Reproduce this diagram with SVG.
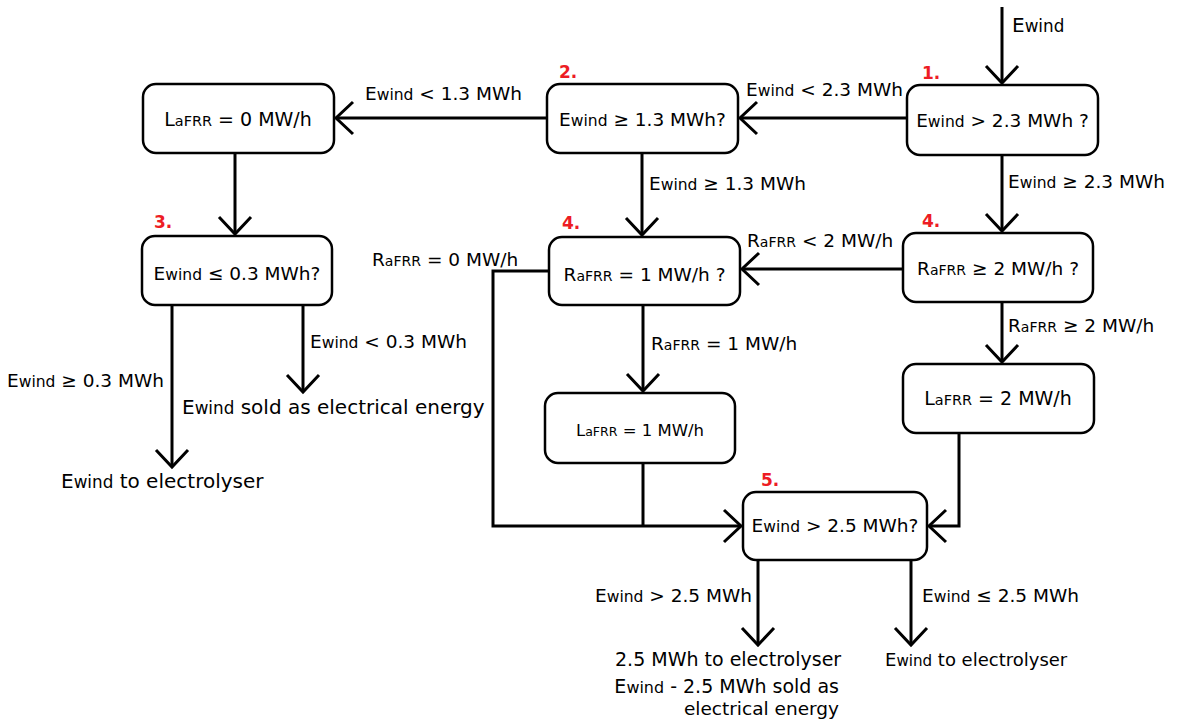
<svg xmlns="http://www.w3.org/2000/svg" width="1181" height="720" viewBox="0 0 1181 720">
<style>
.box{fill:#fff;stroke:#000;stroke-width:2.5}
.c{fill:none;stroke:#000;stroke-width:3}
text{font-family:"DejaVu Sans","Liberation Sans",sans-serif;fill:#000}
.t{font-size:18.5px}
.m{text-anchor:middle}
.big{font-size:20px}
.w{font-size:84%}
.a{font-size:76%}
.num{font-size:17px;font-weight:bold;fill:#ed1c24}
</style>
<defs>
<marker id="arr" markerUnits="userSpaceOnUse" markerWidth="44" markerHeight="44" viewBox="-22 -22 44 44" refX="0" refY="0" orient="auto">
<path d="M-17,-16 L0,0 L-17,16" fill="none" stroke="#000" stroke-width="3"/>
</marker>
</defs>
<rect width="1181" height="720" fill="#fff"/>

<g id="connectors">
<path class="c" d="M1002,7 L1002,83" marker-end="url(#arr)"/>
<path class="c" d="M907,118 L740,118" marker-end="url(#arr)"/>
<path class="c" d="M547,118 L336,118" marker-end="url(#arr)"/>
<path class="c" d="M235,153 L235,234" marker-end="url(#arr)"/>
<path class="c" d="M172,305 L172,467" marker-end="url(#arr)"/>
<path class="c" d="M303,305 L303,392" marker-end="url(#arr)"/>
<path class="c" d="M642,153 L642,235" marker-end="url(#arr)"/>
<path class="c" d="M1002,155 L1002,231" marker-end="url(#arr)"/>
<path class="c" d="M903,269 L742,269" marker-end="url(#arr)"/>
<path class="c" d="M1002,302 L1002,362" marker-end="url(#arr)"/>
<path class="c" d="M643,305 L643,391" marker-end="url(#arr)"/>
<path class="c" d="M549,271 L493,271 L493,526 L741,526" marker-end="url(#arr)"/>
<path class="c" d="M643,463 L643,526"/>
<path class="c" d="M959,433 L959,526 L929,526" marker-end="url(#arr)"/>
<path class="c" d="M758,560 L758,645" marker-end="url(#arr)"/>
<path class="c" d="M911,560 L911,645" marker-end="url(#arr)"/>

<text class="t" x="1012" y="32" style="font-size:20px">E<tspan class="w">wind</tspan></text>
<text class="t" x="746" y="96">E<tspan class="w">wind</tspan> &lt; 2.3 MWh</text>
<text class="t" x="365" y="100">E<tspan class="w">wind</tspan> &lt; 1.3 MWh</text>
<text class="t" x="1008" y="188">E<tspan class="w">wind</tspan> ≥ 2.3 MWh</text>
<text class="t" x="649" y="190">E<tspan class="w">wind</tspan> ≥ 1.3 MWh</text>
<text class="t" x="747" y="247">R<tspan class="a">aFRR</tspan> &lt; 2 MW/h</text>
<text class="t" x="372" y="266">R<tspan class="a">aFRR</tspan> = 0 MW/h</text>
<text class="t" x="1008" y="332">R<tspan class="a">aFRR</tspan> ≥ 2 MW/h</text>
<text class="t" x="651" y="350">R<tspan class="a">aFRR</tspan> = 1 MW/h</text>
<text class="t" x="310" y="348">E<tspan class="w">wind</tspan> &lt; 0.3 MWh</text>
<text class="t" x="7" y="387">E<tspan class="w">wind</tspan> ≥ 0.3 MWh</text>
<text class="t" x="595" y="602">E<tspan class="w">wind</tspan> &gt; 2.5 MWh</text>
<text class="t" x="922" y="602">E<tspan class="w">wind</tspan> ≤ 2.5 MWh</text>
</g>

<g id="n1">
<rect class="box" x="907" y="85" width="191" height="70" rx="13"/>
<text class="t m" x="1002.5" y="127">E<tspan class="w">wind</tspan> &gt; 2.3 MWh ?</text>
<text class="num" x="922" y="79">1.</text>
</g>
<g id="n2">
<rect class="box" x="547" y="84" width="191" height="69" rx="13"/>
<text class="t m" x="642.5" y="126">E<tspan class="w">wind</tspan> ≥ 1.3 MWh?</text>
<text class="num" x="559" y="78">2.</text>
</g>
<g id="laFRR0">
<rect class="box" x="143" y="84" width="191" height="69" rx="13"/>
<text class="t m" x="238" y="126" style="font-size:19px">L<tspan class="a">aFRR</tspan> = 0 MW/h</text>
</g>
<g id="n3">
<rect class="box" x="142" y="236" width="190" height="69" rx="13"/>
<text class="t m" x="237" y="280">E<tspan class="w">wind</tspan> ≤ 0.3 MWh?</text>
<text class="num" x="154" y="228">3.</text>
</g>
<g id="n4a">
<rect class="box" x="549" y="237" width="191" height="68" rx="13"/>
<text class="t m" x="644.5" y="281">R<tspan class="a">aFRR</tspan> = 1 MW/h ?</text>
<text class="num" x="562" y="229">4.</text>
</g>
<g id="n4b">
<rect class="box" x="903" y="233" width="190" height="69" rx="13"/>
<text class="t m" x="998" y="275">R<tspan class="a">aFRR</tspan> ≥ 2 MW/h ?</text>
<text class="num" x="922" y="227">4.</text>
</g>
<g id="laFRR2">
<rect class="box" x="903" y="364" width="191" height="69" rx="13"/>
<text class="t m" x="998" y="405" style="font-size:19px">L<tspan class="a">aFRR</tspan> = 2 MW/h</text>
</g>
<g id="laFRR1">
<rect class="box" x="545" y="393" width="190" height="70" rx="13"/>
<text class="t m" x="640" y="436" style="font-size:16.5px">L<tspan class="a">aFRR</tspan> = 1 MW/h</text>
</g>
<g id="n5">
<rect class="box" x="743" y="492" width="184" height="68" rx="13"/>
<text class="t m" x="835" y="532">E<tspan class="w">wind</tspan> &gt; 2.5 MWh?</text>
<text class="num" x="761" y="486">5.</text>
</g>

<g id="out-sold">
<text class="big" x="182" y="414">E<tspan class="w">wind</tspan> sold as electrical energy</text>
</g>
<g id="out-electrolyser-left">
<text class="big" x="61" y="488">E<tspan class="w">wind</tspan> to electrolyser</text>
</g>
<g id="out-split">
<text x="615" y="666" style="font-size:19px">2.5 MWh to electrolyser</text>
<text x="839" y="693" style="font-size:19px;text-anchor:end">E<tspan class="w">wind</tspan> - 2.5 MWh sold as</text>
<text x="839" y="715" style="font-size:18.5px;text-anchor:end">electrical energy</text>
</g>
<g id="out-electrolyser-right">
<text x="885" y="666" style="font-size:18px">E<tspan class="w">wind</tspan> to electrolyser</text>
</g>
</svg>
